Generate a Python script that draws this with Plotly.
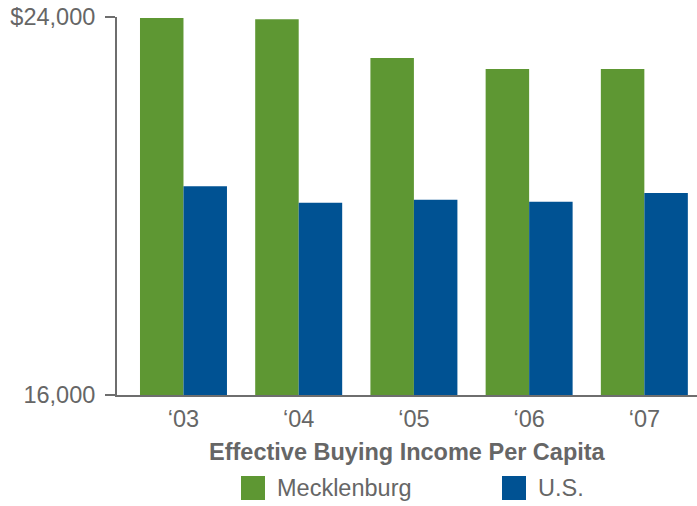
import plotly.graph_objects as go

years = ["‘03", "‘04", "‘05", "‘06", "‘07"]
mecklenburg = [23980, 23950, 23130, 22900, 22900]
us = [20420, 20070, 20130, 20090, 20275]
series_names = ["Mecklenburg", "U.S."]
y_tick_vals = [16000, 24000]
y_tick_text = ["16,000", "$24,000"]
axis_title = "Effective Buying Income Per Capita"

GREEN = "#5E9733"
BLUE = "#005293"
GRAY = "#666666"
AXIS = "#6E6E6E"
FONT = "Liberation Sans, Arial, Helvetica, sans-serif"

fig = go.Figure()
fig.add_trace(go.Bar(x=years, y=mecklenburg, name=series_names[0],
                     marker=dict(color=GREEN, line=dict(width=0)), showlegend=False))
fig.add_trace(go.Bar(x=years, y=us, name=series_names[1],
                     marker=dict(color=BLUE, line=dict(width=0)), showlegend=False))

fig.update_layout(
    width=697, height=506,
    margin=dict(l=117, r=0, t=17, b=111),
    paper_bgcolor="white", plot_bgcolor="white",
    barmode="group", bargap=0.245, bargroupgap=0,
    font=dict(family=FONT, color=GRAY, size=23),
    xaxis=dict(type="category", range=[-0.577, 4.457], showgrid=False,
               showline=True, linecolor=AXIS, linewidth=2,
               ticks="", tickfont=dict(size=23.5, color=GRAY),
               ticklabelstandoff=2),
    yaxis=dict(range=[16000, 24000], showgrid=False, zeroline=False,
               showline=True, linecolor=AXIS, linewidth=2,
               ticks="outside", ticklen=10, tickwidth=2, tickcolor=AXIS,
               tickvals=y_tick_vals, ticktext=y_tick_text,
               tickfont=dict(size=23.5, color=GRAY), ticklabelstandoff=5),
)

# Axis title
fig.add_annotation(text="<b>%s</b>" % axis_title, xref="paper", yref="paper",
                   x=0.5, y=-0.1508, xanchor="center", yanchor="middle",
                   showarrow=False, font=dict(size=23.5, color=GRAY, family=FONT))

# Manual legend
legend_items = [(series_names[0], GREEN, 0.2138, 0.2724),
                (series_names[1], BLUE, 0.6638, 0.7224)]
for name, col, x0, tx in legend_items:
    fig.add_shape(type="rect", xref="paper", yref="paper",
                  x0=x0, x1=x0 + 0.0414, y0=-0.2778, y1=-0.2143,
                  fillcolor=col, line=dict(width=0))
    fig.add_annotation(text=name, xref="paper", yref="paper",
                       x=tx, y=-0.246, xanchor="left", yanchor="middle",
                       showarrow=False, font=dict(size=23.5, color=GRAY, family=FONT))

fig.write_html("out.html")
